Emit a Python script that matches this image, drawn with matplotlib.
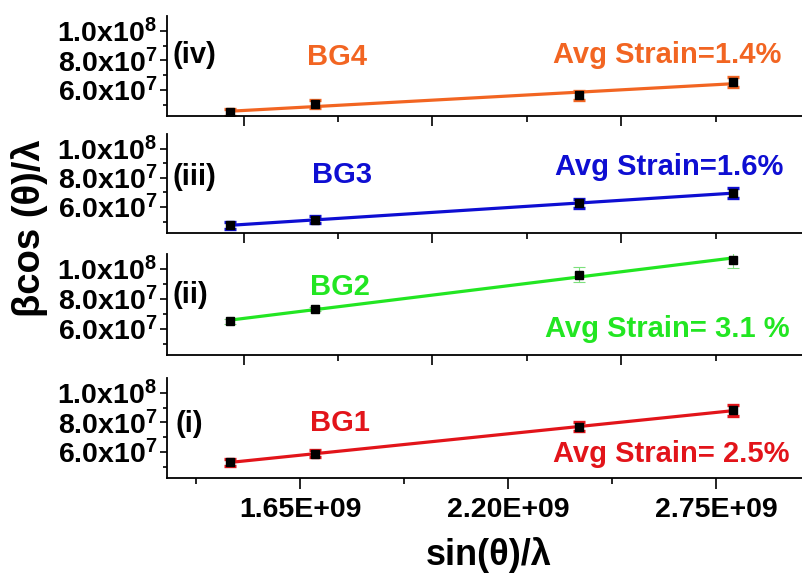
import numpy as np
import matplotlib
matplotlib.use("Agg")
import matplotlib.pyplot as plt
from matplotlib.ticker import FixedLocator

plt.rcParams["font.family"] = ["Liberation Sans", "DejaVu Sans"]
plt.rcParams["font.weight"] = "bold"
plt.rcParams["mathtext.fontset"] = "custom"
plt.rcParams["mathtext.rm"] = "Liberation Sans:bold"
plt.rcParams["mathtext.it"] = "Liberation Sans:bold"
plt.rcParams["mathtext.bf"] = "Liberation Sans:bold"

# sin(theta)/lambda for the four reflections
sin_theta_lambda = [1.465e9, 1.69e9, 2.388e9, 2.795e9]

# beta*cos(theta)/lambda for each sample
bg1 = [5.30e7, 5.88e7, 7.70e7, 8.82e7]
bg2 = [6.50e7, 7.33e7, 9.62e7, 1.062e8]
bg3 = [4.75e7, 5.14e7, 6.27e7, 6.96e7]
bg4 = [4.50e7, 5.05e7, 5.66e7, 6.54e7]

err_bg1 = [2.5e6, 2.5e6, 3.0e6, 3.5e6]
err_bg2 = [1.5e6, 1.5e6, 5.0e6, 5.8e6]
err_bg3 = [2.5e6, 2.5e6, 3.0e6, 3.5e6]
err_bg4 = [2.5e6, 2.5e6, 3.0e6, 3.5e6]

names = ["BG4", "BG3", "BG2", "BG1"]
roman = ["(iv)", "(iii)", "(ii)", "(i)"]
strain_labels = ["Avg Strain=1.4%", "Avg Strain=1.6%", "Avg Strain= 3.1 %", "Avg Strain= 2.5%"]
colors = ["#F26522", "#0E0ED2", "#22E622", "#E2141A"]
y_values = [bg4, bg3, bg2, bg1]
y_errors = [err_bg4, err_bg3, err_bg2, err_bg1]

y_major = [6.0e7, 8.0e7, 1.0e8]
y_minor = [5.0e7, 7.0e7, 9.0e7]
y_tick_text = [r"$\mathrm{6.0x10^{7}}$", r"$\mathrm{8.0x10^{7}}$", r"$\mathrm{1.0x10^{8}}$"]
x_major_bottom = [1.65e9, 2.20e9, 2.75e9]
x_minor_bottom = [1.375e9, 1.925e9, 2.475e9]
x_tick_text = ["1.65E+09", "2.20E+09", "2.75E+09"]
x_major_top = [1.5e9, 2.0e9, 2.5e9]
x_minor_top = [1.75e9, 2.25e9, 2.75e9]

W, H = 803, 577
fig = plt.figure(figsize=(W / 100, H / 100), dpi=100)

# (top_px, bottom_px) of each panel
panel_px = [(16, 116), (134, 232.7), (254, 355), (378.3, 477.7)]
left_px, right_px = 167, 804

# text placement in axes fraction: (x, baseline y)
roman_pos = [(0.009, 0.53), (0.009, 0.483), (0.009, 0.512), (0.014, 0.463)]
name_pos = [(0.267, 0.51), (0.275, 0.50), (0.272, 0.594), (0.272, 0.47)]
strain_pos = [(0.785, 0.527), (0.788, 0.585), (0.786, 0.181), (0.791, 0.161)]

for i in range(4):
    top, bot = panel_px[i]
    ax = fig.add_axes([left_px / W, 1 - bot / H, (right_px - left_px) / W, (bot - top) / H])
    c = colors[i]
    x = np.array(sin_theta_lambda)
    y = np.array(y_values[i])

    thin = (i == 2)
    ax.errorbar(x, y, yerr=y_errors[i], fmt="none",
                ecolor="#7DE07D" if thin else c,
                elinewidth=0.8 if thin else 2.6,
                capsize=4.2, capthick=0.8 if thin else 2.4, zorder=2)
    slope, icpt = np.polyfit(x, y, 1)
    ax.plot(x, slope * x + icpt, color=c, lw=2.3, zorder=3)
    ax.plot(x, y, "s", color="black", ms=6.2, zorder=4)

    ax.set_xlim(1.2975e9, 2.983e9)
    ax.set_ylim(4.25e7, 1.10e8)
    for s in ["top", "right"]:
        ax.spines[s].set_visible(False)
    for s in ["left", "bottom"]:
        ax.spines[s].set_linewidth(1.3)

    ax.yaxis.set_major_locator(FixedLocator(y_major))
    ax.yaxis.set_minor_locator(FixedLocator(y_minor))
    ax.set_yticklabels(y_tick_text)
    ax.tick_params(axis="y", which="major", length=5, width=1.2, pad=2, labelsize=20.5)
    ax.tick_params(axis="y", which="minor", length=3, width=1.2)

    if i == 3:
        ax.xaxis.set_major_locator(FixedLocator(x_major_bottom))
        ax.xaxis.set_minor_locator(FixedLocator(x_minor_bottom))
        ax.set_xticklabels(x_tick_text)
        ax.tick_params(axis="x", which="major", length=8, width=1.2, pad=6, labelsize=20.5)
    else:
        ax.xaxis.set_major_locator(FixedLocator(x_major_top))
        ax.xaxis.set_minor_locator(FixedLocator(x_minor_top))
        ax.tick_params(axis="x", which="major", length=7, width=1.2, labelbottom=False)
    ax.tick_params(axis="x", which="minor", length=4, width=1.2)
    for lab in ax.get_xticklabels() + ax.get_yticklabels():
        lab.set_fontweight("bold")

    rx, ry = roman_pos[i]
    ax.text(rx, ry, roman[i], transform=ax.transAxes, ha="left", va="baseline",
            fontsize=21, fontweight="bold", color="black")
    nx, ny = name_pos[i]
    ax.text(nx, ny, names[i], transform=ax.transAxes, ha="center", va="baseline",
            fontsize=21, fontweight="bold", color=c)
    sx, sy = strain_pos[i]
    ax.text(sx, sy, strain_labels[i], transform=ax.transAxes, ha="center", va="baseline",
            fontsize=21, fontweight="bold", color=c)

fig.text(489 / W, 1 - 555 / H, "sin(θ)/λ", ha="center", va="center",
         fontsize=26, fontweight="bold")
fig.text(30 / W, 1 - 228 / H, "βcos (θ)/λ", ha="center", va="center",
         rotation=90, fontsize=27.5, fontweight="bold")

fig.savefig("out.png", dpi=100)
